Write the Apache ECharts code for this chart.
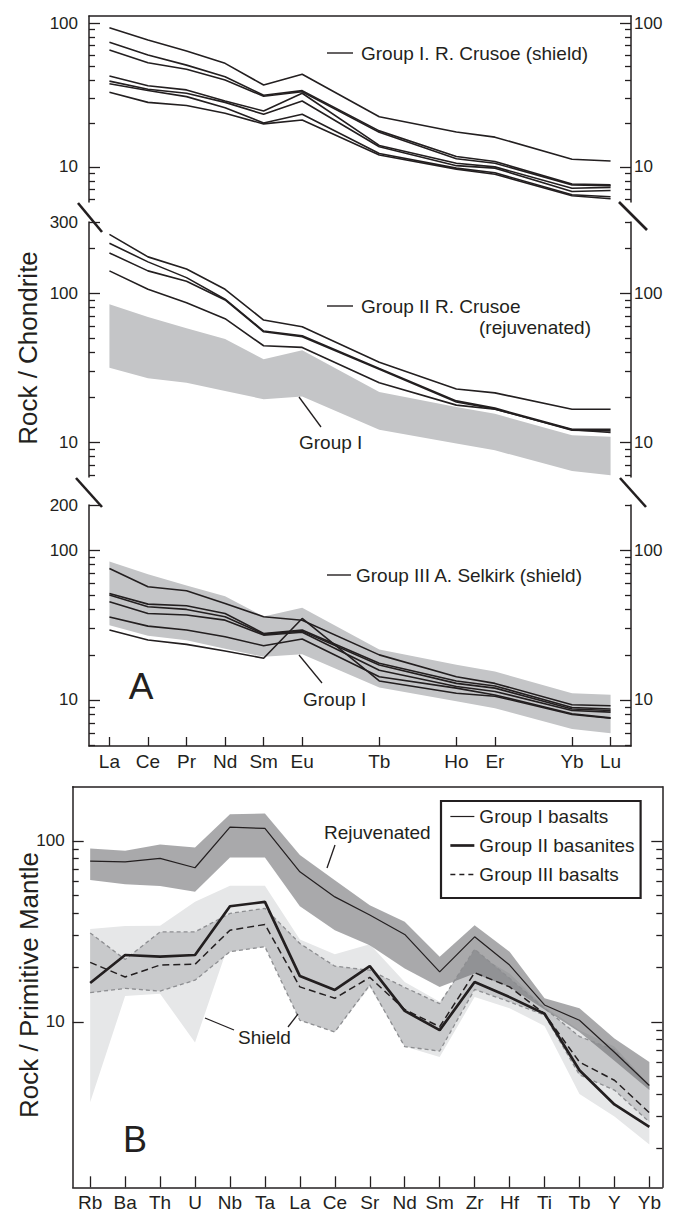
<!DOCTYPE html>
<html><head><meta charset="utf-8">
<script src="https://cdn.jsdelivr.net/npm/echarts@6/dist/echarts.min.js"></script>
<style>html,body{margin:0;padding:0;background:#fff}#c{width:675px;height:1214px}</style>
</head><body><div id="c"></div>
<script>
// ---------- Panel A : REE (chondrite normalised) ----------
const REE = ['La','Ce','Pr','Nd','Sm','Eu','Tb','Ho','Er','Yb','Lu'];
const REE_INDEX = [0,1,2,3,4,5,7,9,10,12,13];   // position in the REE series (Gd, Dy, Tm absent)

const groupI_1 = [92.7, 76.2, 64.0, 52.5, 37.1, 44.1, 22.3, 17.5, 16.1, 11.3, 11.0];
const groupI_2 = [73.5, 60.0, 51.0, 42.4, 31.5, 33.9, 17.8, 11.8, 10.9, 7.6, 7.5];
const groupI_3 = [64.9, 53.0, 47.7, 40.2, 31.0, 33.3, 17.4, 11.4, 10.6, 7.5, 7.4];
const groupI_4 = [42.8, 36.7, 34.3, 28.7, 24.5, 32.5, 14.1, 10.6, 10.0, 7.1, 7.2];
const groupI_5 = [39.5, 34.7, 32.5, 28.1, 23.2, 28.7, 13.8, 10.2, 9.8, 6.75, 6.85];
const groupI_6 = [37.9, 34.0, 30.8, 25.8, 20.2, 23.2, 12.4, 9.8, 9.1, 6.4, 6.2];
const groupI_7 = [33.0, 28.1, 26.7, 23.6, 19.9, 21.2, 12.1, 9.65, 8.9, 6.3, 6.0];

const groupII_1 = [248, 175, 145, 106, 65.9, 59.4, 34.3, 22.7, 21.4, 16.6, 16.6];
const groupII_2 = [216, 162, 127, 91, 55.6, 51.7, 31.2, 18.9, 16.9, 12.2, 12.2];
const groupII_3 = [186, 141, 120, 90, 55.0, 51.0, 30.8, 18.6, 16.7, 12.0, 11.9];
const groupII_4 = [141, 106, 86, 67.3, 44.3, 43.2, 25.0, 17.7, 16.6, 12.1, 11.6];

const groupIII_1 = [75.5, 57.0, 53.5, 44.1, 35.9, 34.0, 20.0, 14.3, 12.9, 9.3, 9.15];
const groupIII_2 = [51.4, 43.6, 42.5, 37.8, 27.8, 29.3, 17.6, 13.4, 12.4, 8.9, 8.7];
const groupIII_3 = [50.1, 41.9, 40.2, 35.9, 27.5, 28.8, 17.1, 12.9, 12.0, 8.7, 8.5];
const groupIII_4 = [45.2, 37.8, 36.9, 34.1, 27.1, 28.3, 15.8, 12.3, 11.4, 8.5, 8.3];
const groupIII_5 = [35.8, 31.1, 29.3, 26.4, 23.0, 25.5, 14.3, 12.0, 10.8, 8.1, 7.6];
const groupIII_6 = [29.3, 25.1, 23.5, 21.2, 19.0, 35.0, 13.4, 11.1, 10.6, 8.0, 7.55];

const groupIBandUpper = [84, 69, 58, 49.2, 36, 41.3, 21.7, 17.2, 15.5, 11.1, 10.85];
const groupIBandLower = [31.5, 26.8, 25, 22, 19.4, 20.2, 12.1, 9.8, 8.8, 6.4, 6.0];

// tick values (log axes)
const A1_MAJOR = [10, 100];
const A1_MINOR = [6,7,8,9,20,30,40,50,60,70,80,90];
const A1_LABELS = [10, 100];
const A2_MAJOR_L = [10, 100, 300];
const A2_MAJOR_R = [10, 100];
const A2_MINOR_L = [6,7,8,9,20,30,40,50,60,70,80,90,200];
const A2_MINOR_R = [6,7,8,9,20,30,40,50,60,70,80,90,200,300];
const A2_LABELS_L = [10, 100, 300];
const A2_LABELS_R = [10, 100];
const A3_MAJOR_L = [10, 100, 200];
const A3_MAJOR_R = [10, 100];
const A3_MINOR_L = [5,6,7,8,9,20,30,40,50,60,70,80,90];
const A3_MINOR_R = [5,6,7,8,9,20,30,40,50,60,70,80,90,200];
const A3_LABELS_L = [10, 100, 200];
const A3_LABELS_R = [10, 100];

// ---------- Panel B : spider diagram (primitive mantle normalised) ----------
const SPIDER = ['Rb','Ba','Th','U','Nb','Ta','La','Ce','Sr','Nd','Sm','Zr','Hf','Ti','Tb','Y','Yb'];
const SPIDER_INDEX = [0,1,2,3,4,5,6,7,8,9,10,11,12,13,14,15,16];

const groupIBasalts    = [77.3, 76.5, 80, 71, 119, 117, 67.4, 49, 38.9, 30.4, 18.9, 29.5, 20.6, 12.4, 10.2, 6.8, 4.45];
const groupIIBasanites = [16.4, 23.4, 22.9, 23.4, 43.5, 46, 17.9, 15.0, 20.3, 11.5, 9.0, 16.6, 13.7, 11.1, 5.4, 3.5, 2.63];
const groupIIIBasalts  = [21.3, 17.7, 20.6, 20.8, 32.1, 34.5, 15.6, 13.5, 17.6, 11.7, 9.4, 18.7, 15.6, 11.1, 6.0, 4.76, 3.15];

const rejuvUpper  = [90.8, 88, 95.5, 91.9, 140, 141.7, 83.4, 60.6, 44.1, 35.7, 22.9, 34.2, 24.4, 13.5, 11.9, 8.1, 6.0];
const rejuvLower  = [60.7, 57.6, 56.2, 52.3, 80.9, 80.9, 43.5, 32.1, 26.5, 19.7, 15.6, 18.5, 15.6, 11.7, 8.8, 6.1, 4.2];
const shieldUpper = [32.6, 33.8, 34, 46, 56.5, 56.5, 28.5, 23.6, 26.8, 16.6, 12.9, 24, 18.5, 12.1, 9.0, 7.3, 4.5];
const shieldLower = [3.6, 13.9, 14.3, 7.7, 28.2, 30.8, 10.2, 8.8, 15.6, 7.3, 6.4, 13.7, 11.9, 9.5, 4.0, 3.0, 2.1];
const g3Upper     = [31, 22.1, 31.4, 31.4, 39.7, 42.4, 27.1, 20.3, 19.3, 15.5, 12.6, 25.2, 17.4, 11.9, 8.3, 7.0, 4.4];
const g3Lower     = [14.5, 15.3, 14.8, 17, 24.4, 26, 10.2, 8.8, 16, 7.3, 6.9, 15.1, 12.9, 10.9, 5.1, 4.2, 2.8];

const B_MAJOR = [10, 100];
const B_MINOR_L = [20,30,40,50,60,70,80,90];
const B_MINOR_R = [2,3,4,5,6,7,8,9,20,30,40,50,60,70,80,90];
const B_LABELS_L = [10, 100];

// ---------- styling / helpers ----------
const FONT = '"Liberation Sans", Arial, Helvetica, sans-serif';
const INK = '#231f20';
const W_THIN = 1.2, W_THICK = 2.7, W_DASH = 1.5, DASH = [7, 4];
const pairs = (xs, vs) => vs.map((v, i) => [xs[i], v]);

function yAx(gridIndex, position, min, max, o) {
  return {
    type: 'log', logBase: 10, gridIndex, position, min, max,
    axisLine: { show: !!o.line, onZero: false, lineStyle: { color: INK, width: 1.5 } },
    axisTick: { show: o.ticks.length > 0, inside: true, length: o.len, customValues: o.ticks,
                lineStyle: { color: INK, width: 1.3 } },
    axisLabel: (o.labels && o.labels.length) ?
      { show: true, customValues: o.labels, margin: o.margin, color: INK, fontSize: 17, fontFamily: FONT } :
      { show: false },
    splitLine: { show: false }, minorTick: { show: false }, minorSplitLine: { show: false }
  };
}
function hiddenX(gridIndex, min, max) {
  return { type: 'value', gridIndex, min, max, show: false, splitLine: { show: false } };
}
function lineSeries(xi, yi, xs, vs, extra) {
  return Object.assign({
    type: 'line', xAxisIndex: xi, yAxisIndex: yi, data: pairs(xs, vs),
    symbol: 'none', showSymbol: false, silent: true, animation: false, z: 5,
    color: INK, itemStyle: { color: INK },
    lineStyle: { color: INK, width: 1.6 }
  }, extra || {});
}
function bandSeries(xi, yi, xs, upper, lower, fill, z) {
  return {
    type: 'custom', xAxisIndex: xi, yAxisIndex: yi, silent: true, animation: false, z,
    data: [[xs[0], upper[0]]],
    renderItem: function (params, api) {
      const pts = xs.map((x, i) => api.coord([x, upper[i]]));
      for (let i = xs.length - 1; i >= 0; i--) pts.push(api.coord([xs[i], lower[i]]));
      return { type: 'polygon', shape: { points: pts }, style: { fill: fill, stroke: null } };
    }
  };
}

// layout
const A_XMIN = -0.53, A_XMAX = 13.53;
const B_XMIN = -0.5, B_XMAX = 16.37;
const G = [
  { left: 89, width: 542, top: 16,  height: 186 },   // A1
  { left: 89, width: 542, top: 222, height: 255 },   // A2
  { left: 89, width: 542, top: 505, height: 241 },   // A3
  { left: 72.7, width: 589.6, top: 786.7, height: 400.6 }      // B
];
const grids = [];
G.forEach(g => { for (let k = 0; k < 2; k++) grids.push(Object.assign({ containLabel: false, outerBoundsMode: 'none' }, g)); });

const xAxes = [
  { type: 'value', gridIndex: 0, position: 'top', min: A_XMIN, max: A_XMAX,
    axisLine: { show: true, onZero: false, lineStyle: { color: INK, width: 1.5 } },
    axisTick: { show: false }, axisLabel: { show: false }, splitLine: { show: false } },
  hiddenX(1, A_XMIN, A_XMAX),
  hiddenX(2, A_XMIN, A_XMAX),
  hiddenX(3, A_XMIN, A_XMAX),
  { type: 'value', gridIndex: 4, position: 'bottom', min: A_XMIN, max: A_XMAX,
    axisLine: { show: true, onZero: false, lineStyle: { color: INK, width: 1.5 } },
    axisTick: { show: true, inside: true, length: 9, customValues: REE_INDEX, lineStyle: { color: INK, width: 1.3 } },
    axisLabel: { show: true, customValues: REE_INDEX, margin: 6, color: INK, fontSize: 19, fontFamily: FONT,
                 formatter: v => REE[REE_INDEX.indexOf(Math.round(v))] || '' },
    splitLine: { show: false } },
  hiddenX(5, A_XMIN, A_XMAX),
  { type: 'value', gridIndex: 6, position: 'bottom', min: B_XMIN, max: B_XMAX,
    axisLine: { show: true, onZero: false, lineStyle: { color: INK, width: 1.5 } },
    axisTick: { show: true, inside: true, length: 11, customValues: SPIDER_INDEX, lineStyle: { color: INK, width: 1.3 } },
    axisLabel: { show: true, customValues: SPIDER_INDEX, margin: 6, color: INK, fontSize: 19, fontFamily: FONT,
                 formatter: v => SPIDER[Math.round(v)] || '' },
    splitLine: { show: false } },
  { type: 'value', gridIndex: 6, position: 'top', min: B_XMIN, max: B_XMAX,
    axisLine: { show: true, onZero: false, lineStyle: { color: INK, width: 1.5 } },
    axisTick: { show: false }, axisLabel: { show: false }, splitLine: { show: false } },
  hiddenX(7, B_XMIN, B_XMAX)
];

const yAxes = [
  yAx(0, 'left',  5.7, 112, { line: true, ticks: A1_MAJOR, len: 11, labels: A1_LABELS, margin: 11 }),
  yAx(0, 'right', 5.7, 112, { line: true, ticks: A1_MAJOR, len: 11, labels: A1_LABELS, margin: 3 }),
  yAx(1, 'left',  5.7, 112, { ticks: A1_MINOR, len: 6 }),
  yAx(1, 'right', 5.7, 112, { ticks: A1_MINOR, len: 6 }),
  yAx(2, 'left',  5.83, 300, { line: true, ticks: A2_MAJOR_L, len: 11, labels: A2_LABELS_L, margin: 11 }),
  yAx(2, 'right', 5.83, 300, { line: true, ticks: A2_MAJOR_R, len: 11, labels: A2_LABELS_R, margin: 3 }),
  yAx(3, 'left',  5.83, 300, { ticks: A2_MINOR_L, len: 6 }),
  yAx(3, 'right', 5.83, 300, { ticks: A2_MINOR_R, len: 6 }),
  yAx(4, 'left',  4.93, 200, { line: true, ticks: A3_MAJOR_L, len: 11, labels: A3_LABELS_L, margin: 11 }),
  yAx(4, 'right', 4.93, 200, { line: true, ticks: A3_MAJOR_R, len: 11, labels: A3_LABELS_R, margin: 3 }),
  yAx(5, 'left',  4.93, 200, { ticks: A3_MINOR_L, len: 6 }),
  yAx(5, 'right', 4.93, 200, { ticks: A3_MINOR_R, len: 6 }),
  yAx(6, 'left',  1.22, 199, { line: true, ticks: B_MAJOR, len: 11, labels: B_LABELS_L, margin: 8 }),
  yAx(6, 'right', 1.22, 199, { line: true, ticks: B_MAJOR, len: 11, labels: [], margin: 3 }),
  yAx(7, 'left',  1.22, 199, { ticks: B_MINOR_L, len: 6 }),
  yAx(7, 'right', 1.22, 199, { ticks: B_MINOR_R, len: 6 })
];

const series = [];
[groupI_1, groupI_2, groupI_3, groupI_4, groupI_5, groupI_6, groupI_7].forEach(d => series.push(lineSeries(0, 0, REE_INDEX, d)));
series.push(bandSeries(2, 4, REE_INDEX, groupIBandUpper, groupIBandLower, '#c4c5c7', 1));
[groupII_1, groupII_2, groupII_3, groupII_4].forEach(d => series.push(lineSeries(2, 4, REE_INDEX, d)));
series.push(bandSeries(4, 8, REE_INDEX, groupIBandUpper, groupIBandLower, '#c4c5c7', 1));
[groupIII_1, groupIII_2, groupIII_3, groupIII_4, groupIII_5, groupIII_6].forEach(d => series.push(lineSeries(4, 8, REE_INDEX, d)));
series.push(bandSeries(6, 12, SPIDER_INDEX, shieldUpper, shieldLower, '#e6e7e8', 1));
series.push(bandSeries(6, 12, SPIDER_INDEX, g3Upper, g3Lower, '#c8c9cb', 2));
series.push(bandSeries(6, 12, SPIDER_INDEX, rejuvUpper, rejuvLower, 'rgba(103,104,107,0.57)', 3));
series.push(lineSeries(6, 12, SPIDER_INDEX, g3Upper, { z: 4, lineStyle: { color: '#8d8e91', width: 1.3, type: [4, 3] } }));
series.push(lineSeries(6, 12, SPIDER_INDEX, g3Lower, { z: 4, lineStyle: { color: '#8d8e91', width: 1.3, type: [4, 3] } }));
series.push(lineSeries(6, 12, SPIDER_INDEX, groupIBasalts,    { name: 'Group I basalts',    lineStyle: { color: INK, width: W_THIN } }));
series.push(lineSeries(6, 12, SPIDER_INDEX, groupIIBasanites, { name: 'Group II basanites', lineStyle: { color: INK, width: W_THICK } }));
series.push(lineSeries(6, 12, SPIDER_INDEX, groupIIIBasalts,  { name: 'Group III basalts',  lineStyle: { color: INK, width: W_DASH, type: DASH } }));

function txt(x, y, text, size, align, extra) {
  return Object.assign({ type: 'text', x, y, z: 50, silent: true,
    style: { text, fill: INK, font: size + 'px ' + FONT, fontSize: size, fontFamily: FONT,
             align: align || 'left', verticalAlign: 'middle', textAlign: align || 'left', textVerticalAlign: 'middle' } }, extra || {});
}
function seg(x1, y1, x2, y2, w) {
  return { type: 'line', z: 50, silent: true, shape: { x1, y1, x2, y2 }, style: { stroke: INK, lineWidth: w || 1.3 } };
}
const graphic = [
  seg(78, 203, 102, 232, 2.6), seg(619, 202, 647, 230, 2.6),
  seg(76, 478, 102, 507, 2.6), seg(620, 478, 646, 507, 2.6),
  seg(327, 53, 353, 53, 1.4), txt(361, 53, 'Group I. R. Crusoe (shield)', 19),
  seg(327, 306, 353, 306, 1.4), txt(361, 306, 'Group II R. Crusoe', 19),
  txt(591, 327, '(rejuvenated)', 19, 'right'),
  seg(299, 397, 321, 427, 1.3), txt(299, 442, 'Group I', 19),
  seg(327, 575, 351, 575, 1.4), txt(356, 575, 'Group III A. Selkirk (shield)', 19),
  seg(299, 655, 322, 683, 1.3), txt(303, 699, 'Group I', 19),
  txt(141, 686, 'A', 37, 'center'),
  txt(28, 348, 'Rock / Chondrite', 26, 'center', { rotation: Math.PI / 2 }),
  txt(324, 832, 'Rejuvenated', 19),
  seg(335, 845, 327, 868, 1.3),
  txt(238, 1037, 'Shield', 19),
  seg(205, 1018, 234, 1030, 1.3), seg(288, 1027, 298, 1014, 1.3),
  txt(135, 1139, 'B', 36, 'center'),
  txt(29, 985, 'Rock / Primitive Mantle', 26, 'center', { rotation: Math.PI / 2 })
];

const option = {
  animation: false,
  backgroundColor: '#ffffff',
  color: [INK],
  textStyle: { fontFamily: FONT, color: INK },
  grid: grids, xAxis: xAxes, yAxis: yAxes, series,
  legend: {
    data: [
      { name: 'Group I basalts',    lineStyle: { color: INK, width: W_THIN } },
      { name: 'Group II basanites', lineStyle: { color: INK, width: W_THICK } },
      { name: 'Group III basalts',  lineStyle: { color: INK, width: W_DASH, type: [5, 4] } }
    ],
    orient: 'vertical', left: 441, top: 801, selectedMode: false,
    itemWidth: 24, itemHeight: 20, itemGap: 10, padding: [6, 6, 14, 8],
    itemStyle: { color: 'transparent', borderColor: 'transparent', borderWidth: 0, opacity: 0 },
    borderColor: INK, borderWidth: 2.2, backgroundColor: '#ffffff',
    textStyle: { color: INK, fontSize: 19, fontFamily: FONT }
  },
  graphic: { elements: graphic }
};
const chart = echarts.init(document.getElementById('c'), null, { renderer: 'svg', width: 675, height: 1214 });
chart.setOption(option);
</script></body></html>
